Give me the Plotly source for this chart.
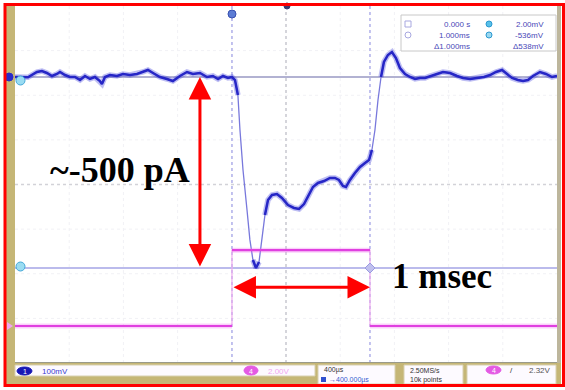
import numpy as np
import plotly.graph_objects as go

W, H = 565, 390

# Channel 1 (blue): membrane current monitor, time in ms from trigger, amplitude in mV
ch1_time = [
    -1.572, -1.522, -1.478, -1.413, -1.377, -1.341, -1.304, -1.268, -1.246, -1.210,
    -1.174, -1.138, -1.101, -1.065, -1.029, -0.993, -0.957, -0.942, -0.920, -0.884,
    -0.833, -0.790, -0.739, -0.688, -0.645, -0.609, -0.572, -0.522, -0.471, -0.428,
    -0.377, -0.326, -0.283, -0.232, -0.181, -0.138, -0.101, -0.065, -0.029, 0.000,
    0.022, 0.043, 0.058, 0.080, 0.109, 0.130, 0.152, 0.174, 0.196, 0.217,
    0.239, 0.261, 0.290, 0.326, 0.362, 0.406, 0.449, 0.486, 0.522, 0.551,
    0.587, 0.623, 0.667, 0.710, 0.746, 0.775, 0.804, 0.826, 0.855, 0.891,
    0.928, 0.964, 0.993, 1.014, 1.036, 1.058, 1.080, 1.101, 1.130, 1.159,
    1.188, 1.217, 1.254, 1.290, 1.326, 1.362, 1.399, 1.435, 1.486, 1.529,
    1.580, 1.630, 1.674, 1.725, 1.775, 1.826, 1.870, 1.913, 1.957, 1.993,
    2.029, 2.072, 2.109, 2.145, 2.181, 2.232, 2.275, 2.319, 2.355,
]
ch1_mv = [
    2.0, 2.0, 1.0, 16.1, 18.9, 13.3, 4.8, 10.5, 16.1, 7.6,
    2.0, 2.0, -6.5, 4.8, -3.6, 2.0, -9.3, -17.7, 2.0, 7.6,
    4.8, 10.5, 7.6, 10.5, 16.1, 21.7, 13.3, 2.0, -3.6, -9.3,
    4.8, 16.1, 10.5, 13.3, 2.0, 4.8, -3.6, 4.8, -0.8, 2.0,
    -6.5, -48.7, -147.3, -260.0, -372.7, -457.0, -513.5, -536.0, -519.0, -457.0,
    -386.7, -344.5, -330.4, -327.6, -338.9, -358.6, -367.0, -369.8, -355.8, -333.2,
    -307.9, -296.6, -291.0, -282.5, -282.5, -288.1, -305.0, -307.9, -288.1, -268.4,
    -251.5, -240.3, -231.8, -203.6, -147.3, -62.8, 2.0, 44.3, 64.0, 72.4,
    55.5, 27.4, 10.5, 2.0, -3.6, -0.8, -0.8, 4.8, 10.5, 16.1,
    13.3, 4.8, -0.8, -3.6, -0.8, 2.0, 7.6, 16.1, 21.7, 10.5,
    -0.8, -6.5, -9.3, -6.5, 4.8, 16.1, 10.5, 2.0, 4.8,
]

# Channel 4 (magenta): stimulus gate pulse, volts
ch4_time = [-1.572, 0.0, 0.0, 1.0, 1.0, 2.355]
ch4_volts = [0.0, 0.0, 3.4, 3.4, 0.0, 0.0]

# Cursor pair: time cursors (ms) and channel-1 amplitude cursors (mV)
cursor_t = [0.0, 1.0]
cursor_mv = [2.0, -536.0]

# Status bar settings
ch1_scale = "100mV"
ch4_scale = "2.00V"
timebase = "400µs"
h_position = "→400.000µs"
sample_rate = "2.50MS/s"
record_len = "10k points"
trig_level = "2.32V"

X_RANGE = [-1.572, 2.355]
Y1_RANGE = [-803.7, 202.0]
Y2_RANGE = [-1.66, 14.35]

# pixel helpers for the instrument frame
def px(x):
    return x / W

def py(y):
    return 1 - y / H

PLOT_L, PLOT_R, PLOT_T, PLOT_B = 15, 557, 6, 363


def split_by_slope(t, v, limit):
    """Return the slowly varying parts of a trace as a gapped polyline."""
    t = np.asarray(t, float)
    v = np.asarray(v, float)
    dt = np.diff(t)
    dv = np.abs(np.diff(v))
    with np.errstate(divide="ignore", invalid="ignore"):
        slope = np.where(dt > 0, dv / np.where(dt > 0, dt, 1), np.inf)
    slow_x, slow_y = [], []
    prev = False
    for i, s in enumerate(slope):
        slow = s < limit
        if slow:
            if not prev:
                if slow_x:
                    slow_x.append(None)
                    slow_y.append(None)
                slow_x.append(t[i])
                slow_y.append(v[i])
            slow_x.append(t[i + 1])
            slow_y.append(v[i + 1])
        prev = slow
    return slow_x, slow_y


fig = go.Figure()

# ---- channel 4 (magenta) ----
c4x, c4y = split_by_slope(ch4_time, ch4_volts, 1.0)
fig.add_trace(go.Scatter(x=ch4_time, y=ch4_volts, yaxis="y2", mode="lines",
                         line=dict(color="#eeaaee", width=1.2), hoverinfo="skip"))
fig.add_trace(go.Scatter(x=c4x, y=c4y, yaxis="y2", mode="lines",
                         line=dict(color="rgba(240,120,240,0.35)", width=5), hoverinfo="skip"))
fig.add_trace(go.Scatter(x=c4x, y=c4y, yaxis="y2", mode="lines",
                         line=dict(color="#e040e0", width=2.2), hoverinfo="skip"))

# ---- channel 1 (blue) ----
c1x, c1y = split_by_slope(ch1_time, ch1_mv, 2200)
fig.add_trace(go.Scatter(x=ch1_time, y=ch1_mv, mode="lines",
                         line=dict(color="#7878dc", width=1.3), hoverinfo="skip"))
fig.add_trace(go.Scatter(x=c1x, y=c1y, mode="lines",
                         line=dict(color="rgba(70,70,220,0.35)", width=5.5), hoverinfo="skip"))
fig.add_trace(go.Scatter(x=c1x, y=c1y, mode="lines",
                         line=dict(color="#2626c6", width=2.5), hoverinfo="skip"))

shapes = []

# graticule: 10 x 8 divisions
for k in range(1, 10):
    if k == 5:
        continue
    shapes.append(dict(type="line", xref="x domain", yref="y domain", x0=k / 10, x1=k / 10,
                       y0=0, y1=1, line=dict(color="#f1f1f5", width=1, dash="dot"), layer="below"))
for k in range(1, 8):
    if k == 4:
        continue
    shapes.append(dict(type="line", xref="x domain", yref="y domain", x0=0, x1=1,
                       y0=k / 8, y1=k / 8, line=dict(color="#f1f1f5", width=1, dash="dot"), layer="below"))
shapes.append(dict(type="line", xref="x domain", yref="y domain", x0=0.5, x1=0.5, y0=0, y1=1,
                   line=dict(color="#c8c8d0", width=1.5, dash="dot"), layer="below"))
shapes.append(dict(type="line", xref="x domain", yref="y domain", x0=0, x1=1, y0=0.5, y1=0.5,
                   line=dict(color="#d2d2d8", width=1.5, dash="dot"), layer="below"))

# cursors
for ct in cursor_t:
    shapes.append(dict(type="line", xref="x", yref="y domain", x0=ct, x1=ct, y0=0, y1=1,
                       line=dict(color="#b0b0ea", width=1.5, dash="dot"), layer="below"))
shapes.append(dict(type="line", xref="x domain", yref="y", x0=0, x1=1, y0=cursor_mv[0], y1=cursor_mv[0],
                   line=dict(color="#b2b2d2", width=1.8), layer="below"))
shapes.append(dict(type="line", xref="x domain", yref="y", x0=0, x1=1, y0=cursor_mv[1], y1=cursor_mv[1],
                   line=dict(color="#a4a4e6", width=1.5), layer="below"))

# instrument frame
OLIVE = "#c5b676"
shapes.append(dict(type="rect", xref="paper", yref="paper", x0=px(6), x1=px(PLOT_L), y0=py(385), y1=py(5),
                   fillcolor=OLIVE, line=dict(width=0)))
shapes.append(dict(type="rect", xref="paper", yref="paper", x0=px(6), x1=px(561), y0=py(385), y1=py(PLOT_B),
                   fillcolor=OLIVE, line=dict(width=0)))
shapes.append(dict(type="rect", xref="paper", yref="paper", x0=px(PLOT_R), x1=px(561), y0=py(PLOT_B), y1=py(5),
                   fillcolor="#bdb69c", line=dict(width=0)))
shapes.append(dict(type="line", xref="paper", yref="paper", x0=px(PLOT_L), x1=px(PLOT_R),
                   y0=py(PLOT_B - 0.5), y1=py(PLOT_B - 0.5), line=dict(color="#9a9a8a", width=1)))

# status bar boxes
def box(x0, x1, y0, y1, fill="#fdfaff", line="#d8d0b0"):
    shapes.append(dict(type="rect", xref="paper", yref="paper", x0=px(x0), x1=px(x1), y0=py(y1), y1=py(y0),
                       fillcolor=fill, line=dict(color=line, width=1)))

def ellipse(x0, x1, y0, y1, fill, line=None):
    shapes.append(dict(type="circle", xref="paper", yref="paper", x0=px(x0), x1=px(x1), y0=py(y1), y1=py(y0),
                       fillcolor=fill, line=dict(color=line or fill, width=1)))

box(15, 315, 365, 376)
box(318, 395, 365, 384)
box(404, 463, 365, 384)
box(467, 556, 365, 384)
ellipse(17, 32, 367, 375, "#1818b4")
ellipse(244, 258, 366, 375, "#e45ae4")
ellipse(486, 501, 366, 374, "#e45ae4")
shapes.append(dict(type="rect", xref="paper", yref="paper", x0=px(321), x1=px(326), y0=py(382), y1=py(377),
                   fillcolor="#3050d0", line=dict(width=0)))

# cursor readout panel
box(401, 556, 15, 51, fill="#ffffff", line="#c8c8c8")
shapes.append(dict(type="rect", xref="paper", yref="paper", x0=px(405), x1=px(411), y0=py(27), y1=py(21),
                   line=dict(color="#a8a8e0", width=1)))
ellipse(405, 411, 32, 38, "rgba(0,0,0,0)", "#a8a8e0")
ellipse(486, 492, 21, 27, "#58c0e8", "#2a98d0")
ellipse(486, 492, 32, 38, "#9ad8f0", "#2a98d0")

# channel / cursor markers on the screen edges
ellipse(5, 13, 73, 81, "#2a2ac8")
ellipse(16, 25, 76, 85, "#9adcf2", "#44a8d8")
ellipse(16, 25, 262, 271, "#9adcf2", "#44a8d8")
ellipse(228, 236, 10, 18, "#5c7cd4", "#3850b0")
ellipse(284, 290, 3, 9, "#3a3a70")
shapes.append(dict(type="path", xref="paper", yref="paper",
                   path=f"M {px(7)},{py(322)} L {px(13)},{py(326)} L {px(7)},{py(330)} Z",
                   fillcolor="#f2a6f2", line=dict(width=0)))
shapes.append(dict(type="path", xref="paper", yref="paper",
                   path=(f"M {px(370)},{py(263)} L {px(375)},{py(268)} L {px(370)},{py(273)} "
                         f"L {px(365)},{py(268)} Z"),
                   fillcolor="#c0c0ee", line=dict(color="#9a9ae0", width=1)))

# red outline around the capture
shapes.append(dict(type="rect", xref="paper", yref="paper", x0=px(5), x1=px(563.5), y0=py(385.5), y1=py(4.5),
                   line=dict(color="#ff0000", width=3)))

annotations = []

def label(x, y, text, size=8, color="#333333", xanchor="left", family="Liberation Sans"):
    annotations.append(dict(x=px(x), y=py(y), xref="paper", yref="paper", text=text, showarrow=False,
                            xanchor=xanchor, yanchor="middle", font=dict(size=size, color=color, family=family)))

# status bar text
label(24.5, 371, "1", size=7, color="#ffffff", xanchor="center")
label(40, 371, ch1_scale, size=8, color="#3a3ad0")
label(251, 371, "4", size=7, color="#ffffff", xanchor="center")
label(266, 371, ch4_scale, size=8, color="#f0a8f0")
label(322, 370, timebase, size=7, color="#333333")
label(327, 380, h_position, size=7, color="#3a5ad0")
label(408, 370, sample_rate, size=7, color="#333333")
label(408, 380, record_len, size=7, color="#333333")
label(493.5, 370, "4", size=7, color="#ffffff", xanchor="center")
label(508, 370, "/", size=8, color="#333333")
label(553, 370, trig_level, size=8, color="#555555", xanchor="right")

# cursor readouts
def fmt_t(v):
    return f"{v:.3f} s" if v == 0 else f"{v:.3f}ms"

panel_color = "#4848b8"
label(472, 24, fmt_t(cursor_t[0]), size=8, color=panel_color, xanchor="right")
label(472, 35, fmt_t(cursor_t[1]), size=8, color=panel_color, xanchor="right")
label(472, 46, f"Δ{cursor_t[1] - cursor_t[0]:.3f}ms", size=8, color=panel_color, xanchor="right")
label(546, 24, f"{cursor_mv[0]:.2f}mV", size=8, color=panel_color, xanchor="right")
label(546, 35, f"{cursor_mv[1]:.0f}mV", size=8, color=panel_color, xanchor="right")
label(546, 46, f"Δ{cursor_mv[0] - cursor_mv[1]:.0f}mV", size=8, color=panel_color, xanchor="right")

# measurement arrows
arrow_t = -0.232
annotations.append(dict(x=arrow_t, y=cursor_mv[0], ax=arrow_t, ay=cursor_mv[1], xref="x", yref="y",
                        axref="x", ayref="y", text="", showarrow=True, arrowhead=2, arrowside="end+start",
                        arrowsize=1.5, arrowwidth=3, arrowcolor="#ff0000"))
annotations.append(dict(x=cursor_t[1], y=-590, ax=cursor_t[0], ay=-590, xref="x", yref="y",
                        axref="x", ayref="y", text="", showarrow=True, arrowhead=2, arrowside="end+start",
                        arrowsize=1.5, arrowwidth=3, arrowcolor="#ff0000"))

label(120, 170, "<b>~-500 pA</b>", size=36, color="#000000", xanchor="center", family="Liberation Serif")
label(442, 276, "<b>1 msec</b>", size=35, color="#000000", xanchor="center", family="Liberation Serif")

fig.update_layout(
    width=W, height=H,
    margin=dict(l=0, r=0, t=0, b=0),
    paper_bgcolor="#ffffff",
    plot_bgcolor="#ffffff",
    showlegend=False,
    xaxis=dict(domain=[px(PLOT_L), px(PLOT_R)], range=X_RANGE, showgrid=False, zeroline=False,
               showticklabels=False, ticks="", showline=False, fixedrange=True),
    yaxis=dict(domain=[py(PLOT_B), py(PLOT_T)], range=Y1_RANGE, showgrid=False, zeroline=False,
               showticklabels=False, ticks="", showline=False, fixedrange=True),
    yaxis2=dict(domain=[py(PLOT_B), py(PLOT_T)], range=Y2_RANGE, overlaying="y", showgrid=False,
                zeroline=False, showticklabels=False, ticks="", showline=False, fixedrange=True),
    shapes=shapes,
    annotations=annotations,
)

fig.write_html("out.html")
